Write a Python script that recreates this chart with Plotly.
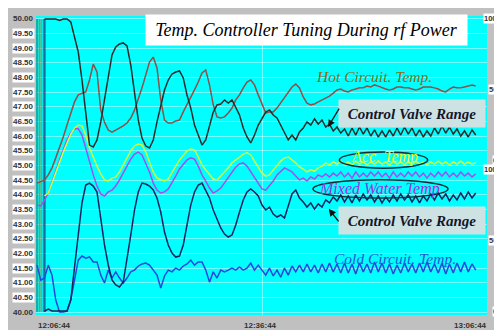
import plotly.graph_objects as go

# ---------------- data ----------------
sample_minutes = [0.5 * i for i in range(118)]  # one sample every 30 s from 12:06:44

hot_circuit_temp = [
    44.40, 44.44, 44.50, 44.68, 44.92, 45.26, 45.60, 45.97, 46.38, 46.79,
    47.17, 47.41, 47.47, 47.51, 47.92, 48.46, 48.19, 46.89, 46.48, 46.21,
    46.14, 46.21, 46.28, 46.35, 46.45, 46.62, 46.89, 47.24, 47.65, 48.09,
    48.53, 48.70, 48.33, 47.24, 46.55, 46.45, 46.45, 46.52, 46.55, 46.83,
    47.07, 47.34, 47.58, 47.85, 48.16, 48.26, 47.75, 47.07, 46.66, 46.62,
    46.66, 46.79, 46.96, 47.24, 47.41, 47.65, 47.85, 47.92, 47.75, 47.41,
    47.07, 46.79, 46.83, 46.83, 46.96, 47.13, 47.34, 47.51, 47.68, 47.78,
    47.65, 47.34, 47.13, 47.07, 47.10, 47.17, 47.24, 47.30, 47.37, 47.47,
    47.58, 47.61, 47.54, 47.51, 47.58, 47.61, 47.65, 47.65, 47.71, 47.68,
    47.75, 47.71, 47.65, 47.61, 47.58, 47.61, 47.68, 47.68, 47.65, 47.65,
    47.61, 47.58, 47.61, 47.68, 47.68, 47.68, 47.65, 47.61, 47.54, 47.51,
    47.61, 47.68, 47.65, 47.65, 47.68, 47.71, 47.75, 47.71,
]

acc_temp = [
    None, None, 43.96, 44.06, 44.40, 44.78, 45.12, 45.46, 45.77, 46.07,
    46.28, 46.38, 46.35, 46.04, 45.60, 45.26, 44.98, 44.71, 44.51, 44.47,
    44.57, 44.61, 44.78, 45.02, 45.26, 45.50, 45.67, 45.73, 45.70, 45.46,
    45.12, 44.78, 44.57, 44.51, 44.47, 44.54, 44.74, 44.98, 45.19, 45.36,
    45.50, 45.56, 45.53, 45.29, 45.02, 44.85, 44.68, 44.54, 44.51, 44.64,
    44.78, 44.92, 45.09, 45.19, 45.29, 45.39, 45.43, 45.36, 45.15, 44.92,
    44.74, 44.64, 44.68, 44.85, 45.02, 45.15, 45.26, 45.29, 45.19, 45.09,
    44.95, 44.88, 44.78, 44.85, 44.81, 44.92, 44.98, 45.09, 45.02, 45.12,
    45.05, 45.15, 45.05, 45.12, 45.02, 45.15, 45.05, 45.12, 45.02, 45.12,
    45.05, 45.15, 45.05, 45.12, 45.02, 45.15, 45.05, 45.12, 45.02, 45.12,
    45.05, 45.15, 45.05, 45.12, 45.02, 45.12, 45.05, 45.15, 45.05, 45.12,
    45.02, 45.12, 45.05, 45.15, 45.05, 45.12, 45.05, 45.09,
]

mixed_water_temp = [
    43.65, 43.62, 43.82, 44.06, 44.44, 44.85, 45.19, 45.53, 45.87, 46.11,
    46.25, 46.25, 46.04, 45.60, 45.12, 44.68, 44.30, 44.03, 43.96, 44.10,
    44.16, 44.30, 44.51, 44.74, 44.98, 45.22, 45.39, 45.46, 45.36, 45.09,
    44.78, 44.40, 44.16, 44.06, 44.10, 44.20, 44.40, 44.64, 44.88, 45.05,
    45.19, 45.26, 45.22, 44.98, 44.68, 44.47, 44.23, 44.06, 44.13, 44.23,
    44.40, 44.57, 44.78, 44.95, 45.05, 45.09, 44.98, 44.78, 44.57, 44.37,
    44.20, 44.16, 44.30, 44.47, 44.68, 44.81, 44.92, 44.85, 44.78, 44.64,
    44.51, 44.57, 44.47, 44.61, 44.54, 44.68, 44.61, 44.71, 44.61, 44.74,
    44.64, 44.78, 44.61, 44.74, 44.57, 44.78, 44.61, 44.74, 44.61, 44.78,
    44.64, 44.78, 44.61, 44.74, 44.57, 44.78, 44.61, 44.74, 44.61, 44.78,
    44.64, 44.78, 44.61, 44.74, 44.57, 44.74, 44.61, 44.78, 44.64, 44.78,
    44.61, 44.74, 44.61, 44.78, 44.64, 44.74, 44.61, 44.71,
]

cold_circuit_temp = [
    41.60, 41.09, 41.16, 41.60, 41.26, 40.41, 40.00, 40.00, 40.03, 40.41,
    41.09, 41.77, 41.91, 41.84, 41.88, 41.71, 41.71, 41.26, 40.99, 41.43,
    41.16, 41.37, 41.16, 40.99, 41.16, 41.37, 41.43, 41.57, 41.64, 41.67,
    41.60, 41.43, 41.26, 40.82, 41.23, 41.43, 41.37, 41.50, 41.43, 41.57,
    41.64, 41.77, 41.60, 41.71, 41.71, 41.43, 41.02, 41.37, 41.16, 41.43,
    41.37, 41.43, 41.50, 41.43, 41.54, 41.43, 41.50, 41.67, 41.43, 41.60,
    41.43, 41.26, 41.50, 41.23, 41.43, 41.19, 41.50, 41.26, 41.57, 41.37,
    41.60, 41.37, 41.64, 41.37, 41.60, 41.33, 41.64, 41.37, 41.67, 41.37,
    41.64, 41.33, 41.67, 41.33, 41.64, 41.30, 41.67, 41.37, 41.64, 41.33,
    41.71, 41.37, 41.67, 41.33, 41.64, 41.30, 41.60, 41.33, 41.67, 41.37,
    41.64, 41.33, 41.67, 41.37, 41.71, 41.37, 41.64, 41.33, 41.67, 41.30,
    41.64, 41.33, 41.67, 41.37, 41.71, 41.37, 41.64, 41.43,
]

# control valve positions in percent (upper trace = hot side, lower trace = cold side)
valve_upper_pct = [
    None, None, 100, 100, 100, 100, 99, 100, 100, 97.9,
    87.2, 76.6, 56.7, 31.9, 10.6, 9.2, 14.2, 27.0, 42.6, 60.3,
    74.5, 80.1, 82.3, 83.0, 80.9, 67.4, 46.1, 28.4, 15.6, 9.9,
    8.5, 14.2, 27.0, 39.0, 49.6, 56.7, 61.0, 62.4, 63.1, 58.2,
    46.1, 36.9, 24.8, 17.7, 10.6, 14.2, 24.8, 34.0, 39.0, 39.7,
    42.6, 40.4, 42.6, 36.9, 31.9, 22.7, 16.3, 12.1, 17.7, 24.8,
    29.8, 34.0, 35.5, 31.9, 29.8, 24.8, 19.1, 14.2, 17.7, 14.2,
    19.9, 22.7, 27.0, 24.8, 29.1, 25.5, 28.4, 23.4, 25.5, 20.6,
    23.4, 19.1, 22.0, 17.0, 22.7, 17.7, 23.4, 18.4, 22.7, 17.0,
    21.3, 16.3, 20.6, 16.3, 21.3, 17.0, 22.7, 17.7, 23.4, 18.4,
    22.7, 17.0, 21.3, 16.3, 20.6, 17.0, 22.7, 18.4, 24.1, 19.1,
    23.4, 18.4, 22.0, 17.0, 20.6, 16.3, 21.3, 17.7,
]

valve_lower_pct = [
    None, None, 0.0, 1.4, 0.0, 0.0, 0.0, 0.0, 0.0, 7.7,
    28.9, 53.5, 76.1, 88.7, 90.1, 88.0, 83.8, 64.1, 46.5, 32.4,
    21.8, 18.3, 16.9, 20.4, 35.9, 53.5, 71.1, 83.8, 90.1, 89.4,
    88.0, 85.2, 79.6, 69.7, 55.6, 46.5, 40.8, 38.0, 38.7, 46.5,
    60.6, 74.6, 83.8, 88.7, 90.1, 85.2, 79.6, 71.1, 64.1, 58.5,
    54.2, 52.1, 53.5, 60.6, 69.7, 78.2, 83.8, 85.9, 83.8, 81.0,
    74.6, 71.1, 73.2, 68.3, 66.2, 67.6, 65.5, 74.6, 82.4, 85.2,
    79.6, 76.8, 73.2, 76.1, 71.8, 75.4, 73.2, 78.2, 76.1, 80.3,
    77.5, 81.7, 76.8, 81.0, 76.1, 81.7, 77.5, 82.4, 78.2, 81.7,
    76.8, 81.0, 76.1, 80.3, 76.8, 81.7, 77.5, 82.4, 78.2, 81.7,
    76.8, 81.0, 76.1, 81.0, 77.5, 82.4, 78.2, 83.1, 78.9, 82.4,
    77.5, 81.7, 78.2, 83.1, 78.9, 83.8, 79.6, 83.1,
]

# recorder start-up pen sweeps (minutes after start)
startup_minutes = [0.0, 0.3, 0.55, 0.85, 1.05]
startup_colors = ["#1f7a7a", "#5aa070", "#a08a3a", "#2a8a8a", "#1a3a7a"]

left_tick_values = [40.0 + 0.5 * k for k in range(21)]
right_tick_values = [0, 50, 100]
time_labels = ["12:06:44", "12:36:44", "13:06:44"]
time_label_minutes = [0, 30, 60]

# ---------------- styles ----------------
CYAN = "#00ffff"
GRAY = "#c0c0c0"
SERIF = "Liberation Serif, Times New Roman, DejaVu Serif, serif"
SANS = "Liberation Sans, Arial, sans-serif"

fig = go.Figure()

for t0, col in zip(startup_minutes, startup_colors):
    fig.add_trace(go.Scatter(x=[t0, t0], y=[min(left_tick_values), max(left_tick_values)],
                             mode="lines", line=dict(color=col, width=1.2),
                             hoverinfo="skip", showlegend=False))

fig.add_trace(go.Scatter(x=sample_minutes, y=cold_circuit_temp, mode="lines",
                         line=dict(color="#2448dc", width=1.5), name="Cold Circuit Temp"))
fig.add_trace(go.Scatter(x=sample_minutes, y=valve_lower_pct, yaxis="y3", mode="lines",
                         line=dict(color="#14245e", width=1.5), name="Control Valve Range (cold)"))
fig.add_trace(go.Scatter(x=sample_minutes, y=hot_circuit_temp, mode="lines",
                         line=dict(color="#8f4f4a", width=1.5), name="Hot Circuit Temp"))
fig.add_trace(go.Scatter(x=sample_minutes, y=valve_upper_pct, yaxis="y2", mode="lines",
                         line=dict(color="#2b2b2b", width=1.5), name="Control Valve Range (hot)"))
fig.add_trace(go.Scatter(x=sample_minutes, y=mixed_water_temp, mode="lines",
                         line=dict(color="#a24ff0", width=1.5), name="Mixed Water Temp"))
fig.add_trace(go.Scatter(x=sample_minutes, y=acc_temp, mode="lines",
                         line=dict(color="#d0ff3c", width=1.5), name="Acc. Temp"))

grid_col = "rgba(255,255,255,0.45)"
# the page body adds an 8 px white border, so the figure fills the rest of the window
fig.update_layout(
    width=494, height=322,
    margin=dict(l=28, r=15, t=8, b=15),
    paper_bgcolor=GRAY, plot_bgcolor=CYAN,
    showlegend=False,
    xaxis=dict(range=[-0.133, 60], tickvals=[30], showticklabels=False, ticks="",
               showgrid=True, gridcolor=grid_col, gridwidth=1, zeroline=False, showline=False),
    yaxis=dict(range=[39.898, 50.102], tickvals=left_tick_values, showticklabels=False, ticks="",
               showgrid=True, gridcolor=grid_col, gridwidth=1, zeroline=False, showline=False),
    yaxis2=dict(range=[-109.9, 102.1], overlaying="y", visible=False),
    yaxis3=dict(range=[-2.82, 207.75], overlaying="y", visible=False),
)

ann = []
# left scale labels
for v in left_tick_values:
    boxed = v not in (min(left_tick_values), max(left_tick_values))
    ann.append(dict(x=0, xref="paper", y=v, yref="y", text=f"<b>{v:.2f}</b>",
                    xanchor="right", yanchor="middle", xshift=-1, showarrow=False,
                    font=dict(family=SANS, size=8, color="#333333"),
                    bgcolor="white" if boxed else None, borderpad=0))
# right scale labels (two valve scales)
for yr in ("y2", "y3"):
    for v in right_tick_values:
        ann.append(dict(x=1, xref="paper", y=v, yref=yr, text=f"<b>{v}</b>",
                        xanchor="right", yanchor="middle", xshift=11, showarrow=False,
                        font=dict(family=SANS, size=7.5, color="#333333"),
                        bgcolor="white", borderpad=0))
# time labels
for lab, m in zip(time_labels, time_label_minutes):
    if m == time_label_minutes[0]:
        pos = dict(x=0, xref="paper", xanchor="left", xshift=0)
    elif m == time_label_minutes[-1]:
        pos = dict(x=1, xref="paper", xanchor="right", xshift=2)
    else:
        pos = dict(x=m, xref="x", xanchor="center", xshift=-2)
    ann.append(dict(**pos, y=0, yref="paper", yanchor="middle", yshift=-10,
                    text=f"<b>{lab}</b>", showarrow=False,
                    font=dict(family=SANS, size=8, color="#333333")))

# title box
ann.append(dict(x=35.9, y=49.62, xref="x", yref="y", showarrow=False,
                text="<i>Temp. Controller Tuning During rf Power</i>",
                font=dict(family=SERIF, size=18, color="black"),
                bgcolor="white", width=321, height=30, borderpad=0))
# series labels
ann.append(dict(x=44.9, y=48.05, xref="x", yref="y", showarrow=False,
                text="<i>Hot Circuit. Temp.</i>",
                font=dict(family=SERIF, size=15.5, color="#8b6914")))
ann.append(dict(x=47.7, y=41.84, xref="x", yref="y", showarrow=False,
                text="<i>Cold Circuit. Temp.</i>",
                font=dict(family=SERIF, size=15.5, color="#2456d6")))
ann.append(dict(x=46.3, y=45.28, xref="x", yref="y", showarrow=False,
                text="<i>Acc. Temp</i>",
                font=dict(family=SERIF, size=16, color="#ecff20")))
ann.append(dict(x=45.7, y=44.20, xref="x", yref="y", showarrow=False,
                text="<i>Mixed Water Temp</i>",
                font=dict(family=SERIF, size=16, color="#a030e0")))
for cy in (46.76, 43.11):
    ann.append(dict(x=50.0, y=cy, xref="x", yref="y", showarrow=False,
                    text="<b><i>Control Valve Range</i></b>",
                    font=dict(family=SERIF, size=15, color="#15152a"),
                    bgcolor="#cde3e3", width=146, height=27, borderpad=0))
# arrows
ann.append(dict(x=38.8, y=46.31, xref="x", yref="y", ax=12, ay=-20, text="",
                showarrow=True, arrowhead=2, arrowsize=1.1, arrowwidth=1.3, arrowcolor="#111111"))
ann.append(dict(x=38.9, y=43.52, xref="x", yref="y", ax=11, ay=14, text="",
                showarrow=True, arrowhead=2, arrowsize=1.1, arrowwidth=1.3, arrowcolor="#111111"))

fig.update_layout(annotations=ann)

# ellipses round the two labels
fig.add_shape(type="circle", xref="x", yref="y", x0=40.3, x1=52.1, y0=44.91, y1=45.46,
              line=dict(color="#0a2e3a", width=1.5))
fig.add_shape(type="circle", xref="x", yref="y", x0=36.8, x1=54.8, y0=43.89, y1=44.51,
              line=dict(color="#0a2e3a", width=1.5))

fig.write_html("out.html")
